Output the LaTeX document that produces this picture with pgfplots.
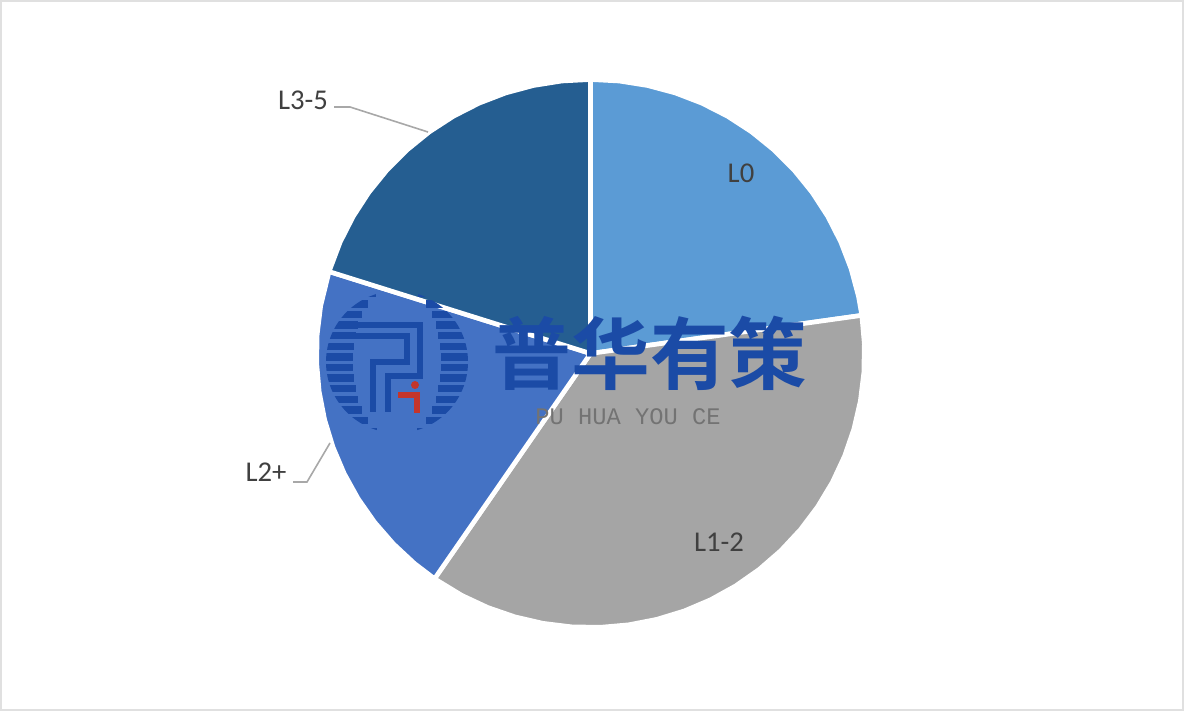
\documentclass[border=0pt]{standalone}
\usepackage{pgfplots}
\pgfplotsset{compat=1.18}
\usepackage{fontspec}
\setmainfont{Carlito}
\newfontfamily\cjk[BoldFont={Noto Sans CJK SC Bold}]{Noto Sans CJK SC}
\newfontfamily\wmfont{Liberation Mono}
\definecolor{sliceA}{HTML}{5B9BD5}
\definecolor{sliceB}{HTML}{A5A5A5}
\definecolor{sliceC}{HTML}{4472C4}
\definecolor{sliceD}{HTML}{255E91}
\definecolor{wmblue}{HTML}{1B4BA6}
\definecolor{wmred}{HTML}{C4352B}
\definecolor{lbl}{HTML}{404040}
\definecolor{leader}{HTML}{A8A8A8}
\begin{document}
\begin{tikzpicture}
  % axis units are reference pixels, origin at the pie centre
  \begin{axis}[
    scale only axis,
    width=888pt,
    height=533.25pt,
    xmin=-590.5, xmax=593.5,
    ymin=-357.5, ymax=353.5,
    hide axis,
    clip=false,
    every axis plot/.append style={data cs=polar, draw=white, line width=3.5pt, line join=round}
    ]
    % L0
    \addplot[fill=sliceA] coordinates {
      (0,0) (90,274) (84,274) (78,274) (72,274) (66,274) (60,274) (54,274) (48,274)
      (42,274) (36,274) (30,274) (24,274) (18,274) (12,274) (8,274)
    } -- cycle;
    % L1-2
    \addplot[fill=sliceB] coordinates {
      (0,0) (8,274) (2,274) (-4,274) (-10,274) (-16,274) (-22,274) (-28,274) (-34,274)
      (-40,274) (-46,274) (-52,274) (-58,274) (-64,274) (-70,274) (-76,274) (-82,274)
      (-88,274) (-94,274) (-100,274) (-106,274) (-112,274) (-118,274) (-124.7,274)
    } -- cycle;
    % L2+
    \addplot[fill=sliceC] coordinates {
      (0,0) (-124.7,274) (-130,274) (-136,274) (-142,274) (-148,274) (-154,274) (-160,274)
      (-166,274) (-172,274) (-178,274) (-184,274) (-190,274) (-197.4,274)
    } -- cycle;
    % L3-5
    \addplot[fill=sliceD] coordinates {
      (0,0) (162.6,274) (156,274) (150,274) (144,274) (138,274) (132,274) (126,274)
      (120,274) (114,274) (108,274) (102,274) (96,274) (90,274)
    } -- cycle;
  \end{axis}
  % overlay in image pixels, y downwards
  \begin{scope}[x=0.75pt,y=-0.75pt,yshift=533.25pt]
    \draw[color=black!12,line width=1.5pt] (1,1) rectangle (1183,710);
    % labels and leaders
    \tikzset{lab/.style={text=lbl,font=\fontsize{21.5}{24}\selectfont,inner sep=0pt}}
    \node[lab] at (741,173) {L0};
    \node[lab] at (719,542) {L1-2};
    \node[lab] at (266,472) {L2+};
    \node[lab] at (303,100) {L3-5};
    \draw[leader,line width=1.2pt] (334,107) -- (350,107) -- (428,132);
    \draw[leader,line width=1.2pt] (293,482) -- (307,482) -- (330,443);
    % watermark logo
    \begin{scope}
      \clip (397,362) circle (71);
      \foreach \k in {-6,...,7} {
        \pgfmathsetmacro{\yy}{357+10.6*\k}
        \pgfmathsetmacro{\xi}{44*sqrt(max(0,1-((\yy-362)/78)^2))}
        \fill[wmblue] (320,\yy-3.7) rectangle (397-\xi,\yy+3.7);
        \fill[wmblue] (397+\xi,\yy-3.7) rectangle (475,\yy+3.7);
      }
    \end{scope}
    \draw[wmblue,line width=4.4pt] (338,325) -- (420,325) -- (420,376) -- (388,376) -- (388,412);
    \draw[wmblue,line width=4.4pt] (333,336) -- (407,336) -- (407,362) -- (373,362) -- (373,412);
    \fill[wmred] (415,385) circle (4);
    \draw[wmred,line width=4.4pt] (398,395) -- (417,395) -- (417,413);
    % watermark text
    \node[text=wmblue,font=\cjk\bfseries\fontsize{59}{60}\selectfont,inner sep=0pt] at (650,353) {普华有策};
    \node[text=black!55,font=\wmfont\fontsize{17.8}{20}\selectfont,inner sep=0pt] at (628,417) {PU HUA YOU CE};
  \end{scope}
\end{tikzpicture}
\end{document}
